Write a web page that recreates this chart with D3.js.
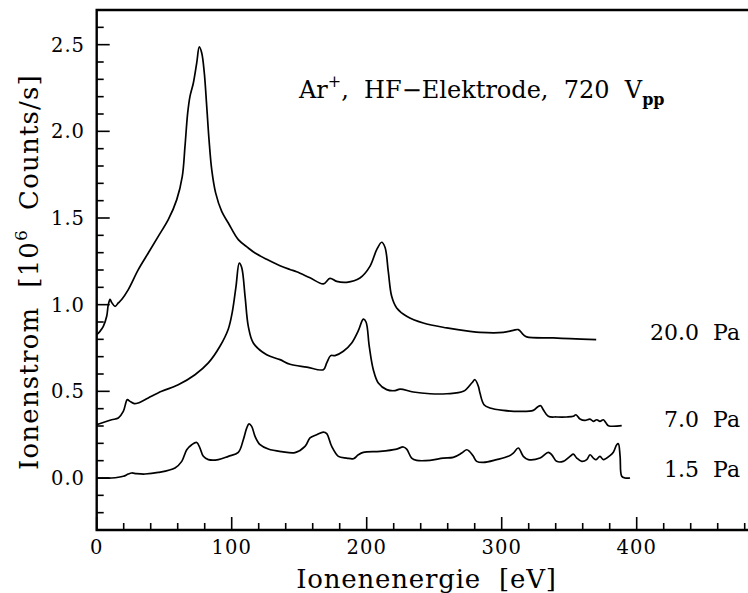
<!DOCTYPE html>
<html>
<head>
<meta charset="utf-8">
<script src="https://cdn.jsdelivr.net/npm/d3@7"></script>
<style>
  body { margin: 0; background: #fff; }
  text { font-family: "DejaVu Serif", serif; fill: #000; white-space: pre; }
</style>
</head>
<body>
<div id="chart"></div>
<script>
// energy [eV], current [10^6 counts/s]
const p20 = [[0,0.827],[2.4,0.846],[4.9,0.875],[7.4,0.933],[8.6,1.0],[9.9,1.03],[11.1,1.013],[13.6,0.99],[16,1.01],[18.5,1.03],
  [23.4,1.087],[30.8,1.202],[38.2,1.298],[45.6,1.394],[53,1.49],[59.3,1.606],[63.4,1.74],[65.4,1.913],[67.4,2.106],[69.1,2.202],
  [71.6,2.279],[74.1,2.395],[76,2.487],[77.8,2.452],[79.7,2.337],[81.5,2.144],[83.2,1.952],[85.2,1.779],[88.1,1.645],[92.6,1.538],
  [97.5,1.471],[104.9,1.375],[112.3,1.327],[117.3,1.298],[125.9,1.262],[135.8,1.225],[143.2,1.203],[148.1,1.19],[158,1.155],[167.9,1.12],
  [172.8,1.152],[177.8,1.134],[185.2,1.129],[195,1.154],[202.4,1.221],[207.4,1.317],[211.1,1.36],[213.6,1.33],[216,1.19],[218.5,1.048],
  [222.2,0.981],[229.6,0.933],[241.9,0.894],[259.3,0.866],[276.5,0.846],[283.9,0.84],[301.2,0.84],[308.6,0.852],[312.3,0.856],[316,0.827],
  [318.5,0.814],[338.2,0.808],[350.6,0.804],[370,0.798]]

const p7 = [[0,0.308],[3.7,0.317],[11.1,0.336],[16,0.346],[19.7,0.384],[22.7,0.452],[24.7,0.442],[27.9,0.429],[30.8,0.433],[38.2,0.462],
  [48.1,0.5],[60.4,0.538],[72.8,0.596],[82.7,0.664],[91.3,0.76],[97.5,0.86],[100.5,0.96],[103.2,1.106],[105.6,1.24],[107.4,1.215],
  [109.9,1.048],[112.3,0.875],[116,0.779],[125.9,0.711],[135.8,0.683],[143.2,0.656],[155.6,0.64],[167.9,0.625],[170.4,0.664],[173.3,0.706],
  [176.5,0.706],[182.7,0.731],[188.9,0.779],[193.8,0.85],[197.5,0.917],[199.5,0.9],[201.9,0.759],[204.9,0.625],[208.6,0.548],[214.8,0.51],
  [221,0.504],[224.7,0.513],[234.5,0.496],[246.9,0.486],[259.3,0.486],[271.6,0.5],[277.8,0.548],[280.2,0.567],[282.7,0.529],[283.9,0.49],
  [286.9,0.423],[291.3,0.404],[301.2,0.39],[313.6,0.384],[323.4,0.39],[327.1,0.413],[328.9,0.417],[330.8,0.394],[334.5,0.356],[340.7,0.352],
  [348.1,0.352],[353.1,0.356],[355,0.365],[358,0.34],[361.7,0.332],[365.4,0.34],[367.9,0.327],[370.4,0.336],[372.8,0.327],[375.3,0.336],
  [377.3,0.317],[379,0.302],[388.9,0.302]]

const p15 = [[0,0],[11.1,0],[19.7,0.01],[23.4,0.023],[25.9,0.029],[29.6,0.025],[35.8,0.023],[45.6,0.032],[58,0.058],[63,0.096],
  [66.7,0.163],[70.4,0.192],[74.1,0.205],[76.5,0.173],[79,0.125],[82.7,0.106],[90.1,0.106],[97.5,0.125],[104.9,0.148],[108.6,0.221],
  [111.1,0.288],[112.8,0.312],[114.8,0.298],[117.3,0.24],[121,0.192],[127.1,0.167],[137,0.152],[146.9,0.146],[154.3,0.182],[158,0.231],
  [163,0.25],[167.9,0.265],[170.4,0.256],[174.1,0.182],[179,0.125],[185.2,0.115],[190.1,0.111],[193.8,0.134],[197.5,0.148],[209.9,0.154],
  [222.2,0.167],[227.1,0.179],[229.6,0.167],[233.3,0.115],[237,0.102],[246.9,0.102],[256.7,0.115],[264.1,0.119],[270.4,0.144],[274.1,0.163],
  [276.5,0.15],[279,0.125],[281.5,0.096],[286.4,0.09],[296.3,0.106],[304.9,0.125],[308.6,0.144],[312.3,0.173],[316,0.125],[319.7,0.106],
  [328.4,0.115],[334.5,0.148],[337.1,0.134],[340.7,0.096],[345.6,0.096],[350.6,0.125],[353.1,0.138],[355.6,0.115],[359.3,0.096],[363,0.106],
  [365.4,0.134],[367.9,0.115],[369.9,0.106],[372.8,0.125],[375.3,0.106],[380.2,0.129],[382.7,0.148],[385.2,0.192],[386.4,0.198],[387.7,0.125],
  [388.9,0.01],[391.4,0],[395.1,0]]

const series = [p20, p7, p15]
const seriesLabels = ["20.0  Pa", "7.0  Pa", "1.5  Pa"]

const xTicks = d3.range(0, 481, 20)
const xLabels = [0, 100, 200, 300, 400]
const yTicks = d3.range(-3, 28).map(d => d / 10)
const yLabels = ["0.0", "0.5", "1.0", "1.5", "2.0", "2.5"]

const W = 748, H = 593
const mLeft = 96.7, mTop = 10, mBottom = 530

const x = d3.scaleLinear().domain([0, 480]).range([mLeft, 744.7])
const y = d3.scaleLinear().domain([-0.3, 2.7]).range([mBottom, mTop])

const svg = d3.select("#chart").append("svg")
    .attr("width", W).attr("height", H)

// frame: left, bottom, top (no right side)
svg.append("path")
    .attr("d", `M${W},${mTop}H${mLeft}V${mBottom}H${W}`)
    .attr("fill", "none")
    .attr("stroke", "#000")
    .attr("stroke-width", 2.4)

svg.append("g").selectAll("line")
  .data(yTicks)
  .join("line")
    .attr("x1", mLeft)
    .attr("x2", d => mLeft + (Math.abs(Math.round(d * 10)) % 5 === 0 ? 13 : 7))
    .attr("y1", d => y(d)).attr("y2", d => y(d))
    .attr("stroke", "#000").attr("stroke-width", 1.6)

svg.append("g").selectAll("text")
  .data(yLabels)
  .join("text")
    .attr("x", 85)
    .attr("y", d => y(+d) + 7)
    .attr("text-anchor", "end")
    .attr("font-size", 19.5)
    .attr("letter-spacing", 1)
    .text(d => d)

svg.append("g").selectAll("line")
  .data(xTicks)
  .join("line")
    .attr("x1", d => x(d)).attr("x2", d => x(d))
    .attr("y1", mBottom)
    .attr("y2", d => mBottom - (d % 100 === 0 ? 13 : 7))
    .attr("stroke", "#000").attr("stroke-width", 1.6)

svg.append("g").selectAll("text")
  .data(xLabels)
  .join("text")
    .attr("x", d => x(d))
    .attr("y", 553.5)
    .attr("text-anchor", "middle")
    .attr("font-size", 19.5)
    .attr("letter-spacing", 1)
    .text(d => d)

svg.append("text")
    .attr("x", 426.5).attr("y", 588)
    .attr("text-anchor", "middle")
    .attr("font-size", 26)
    .attr("letter-spacing", 0.8)
    .text("Ionenenergie  [eV]")

const yt = svg.append("text")
    .attr("transform", "translate(38,272) rotate(-90)")
    .attr("text-anchor", "middle")
    .attr("font-size", 26)
    .attr("letter-spacing", 1.2)
yt.append("tspan").text("Ionenstrom  [10")
yt.append("tspan").attr("font-size", 17).attr("dy", -11).text("6")
yt.append("tspan").attr("dy", 11).text("  Counts/s]")

const line = d3.line()
    .x(d => x(d[0]))
    .y(d => y(d[1]))
    .curve(d3.curveCatmullRom.alpha(0.5))

svg.append("g").selectAll("path")
  .data(series)
  .join("path")
    .attr("d", line)
    .attr("fill", "none")
    .attr("stroke", "#000")
    .attr("stroke-width", 1.7)
    .attr("stroke-linejoin", "round")

svg.append("g").selectAll("text")
  .data(seriesLabels)
  .join("text")
    .attr("x", 740)
    .attr("y", (d, i) => [340, 427, 477][i])
    .attr("text-anchor", "end")
    .attr("font-size", 22)
    .text(d => d)

const t = svg.append("text")
    .attr("x", 299).attr("y", 98)
    .attr("font-size", 24)
t.append("tspan").text("Ar")
t.append("tspan").attr("font-size", 16).attr("dy", -11).text("+")
t.append("tspan").attr("dy", 11).text(",  HF\u2212Elektrode,  720  V")
t.append("tspan").attr("font-size", 16).attr("dy", 7).attr("font-weight", "bold").text("pp")
</script>
</body>
</html>
